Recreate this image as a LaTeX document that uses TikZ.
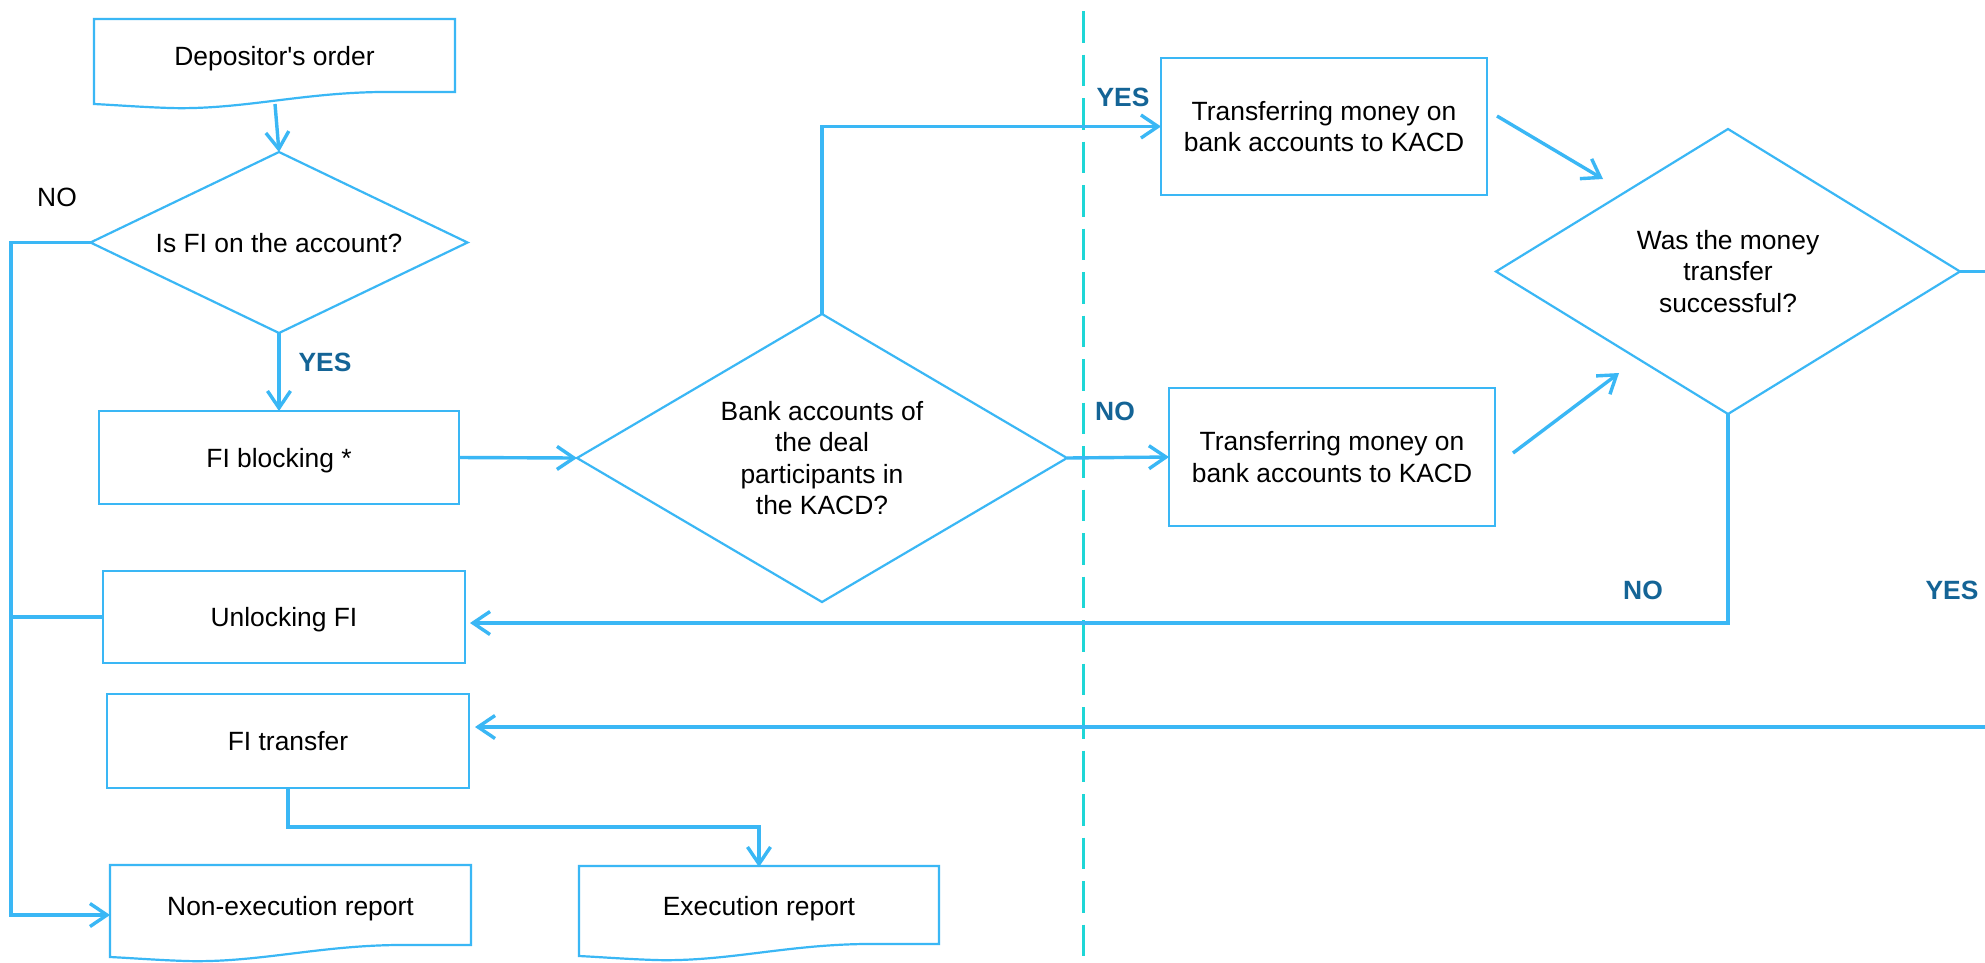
\documentclass[tikz,border=0pt]{standalone}
\usepackage{fontspec}
\setmainfont{Liberation Sans}
\usetikzlibrary{arrows.meta,calc,shapes.geometric}
\definecolor{lineblue}{RGB}{58,183,245}
\definecolor{dashcyan}{RGB}{30,214,214}
\definecolor{lblblue}{RGB}{20,100,150}
\newcommand\docoutline[4]{%
  \draw[boxline] (#1,#2) -- (#3,#2) -- (#3,#4) -- (#3-75,#4)
    .. controls (#3-155,#4+1) and (#1+146,#4+18) .. (#1+76,#4+16)
    .. controls (#1+46,#4+15) and (#1+21,#4+13) .. (#1,#4+12) -- cycle;}
\begin{document}
\begin{tikzpicture}[x=1pt,y=-1pt,
  txt/.style={font=\fontsize{26.4}{31.5}\selectfont, text=black, align=center},
  oneline/.style={text depth=0pt},
  boxline/.style={draw=lineblue, line width=2.2pt},
  box/.style={txt, boxline, rectangle, inner sep=0pt, outer sep=0pt},
  docnode/.style={txt, rectangle, inner sep=0pt, outer sep=0pt},
  dia/.style={txt, boxline, diamond, inner sep=0pt, outer sep=0pt},
  conn/.style={draw=lineblue, line width=3.4pt},
  arr/.style={-{Straight Barb[length=17pt,width=23pt]}},
  lbl/.style={font=\fontsize{26.4}{31.5}\selectfont\bfseries, text=lblblue},
  plainlbl/.style={font=\fontsize{26.4}{31.5}\selectfont, text=black},
  dashline/.style={draw=dashcyan, line width=3pt, dash pattern=on 31.5pt off 12pt}]
\useasboundingbox (0,0) rectangle (1985,962);
\fill[white] (0,0) rectangle (1985,962);
\clip (0,0) rectangle (1985,962);

% separator
\draw[dashline] (1083,11) -- (1083,962);

% nodes
\node[docnode, oneline, minimum width=361pt, minimum height=73pt] (dep) at (274.5,55.5) {Depositor\textquotesingle s order};
\docoutline{94}{19}{455}{92}
\node[dia, oneline, aspect=2, minimum width=377pt, minimum height=181pt] (d1) at (279,242.5) {Is FI on the account?};
\node[box, oneline, minimum width=360pt, minimum height=93pt] (block) at (279,457.5) {FI blocking *};
\node[dia, aspect=1.7, minimum width=490pt, minimum height=288pt] (d2) at (822,458) {Bank accounts of\\the deal\\participants in\\the KACD?};
\node[box, minimum width=326pt, minimum height=137pt] (t1) at (1324,126.5) {Transferring money on\\bank accounts to KACD};
\node[box, minimum width=326pt, minimum height=138pt] (t2) at (1332,457) {Transferring money on\\bank accounts to KACD};
\node[dia, aspect=1.63, minimum width=464pt, minimum height=285pt] (d3) at (1728,271.5) {Was the money\\transfer\\successful?};
\node[box, oneline, minimum width=362pt, minimum height=92pt] (unl) at (284,617) {Unlocking FI};
\node[box, oneline, minimum width=362pt, minimum height=94pt] (tr) at (288,741) {FI transfer};
\node[docnode, oneline, minimum width=361pt, minimum height=80pt] (nonexec) at (290.5,906) {Non-execution report};
\docoutline{110}{865}{471}{945}
\node[docnode, oneline, minimum width=360pt, minimum height=78pt] (exec) at (759,906) {Execution report};
\docoutline{579}{866}{939}{944}

% labels
\node[plainlbl] (no1) at (57,197) {NO};
\node[lbl] (yes1) at (325,362) {YES};
\node[lbl] (yes2) at (1123,97) {YES};
\node[lbl] (no2) at (1115,411) {NO};
\node[lbl] (no3) at (1643,590) {NO};
\node[lbl] (yes3) at (1952,590) {YES};

% helper coordinates
\coordinate (depbot) at (275,104);
\coordinate (busbot) at (11,915);
\coordinate (aAs) at (1497,116);
\coordinate (aAe) at (1603,179);
\coordinate (aBs) at (1513,453);
\coordinate (aBe) at (1619,373);
\coordinate (rt) at (1995,727);

% connectors
\draw[conn, arr] (depbot) -- (d1.north);
\draw[conn, arr] (d1.west) -| (busbot) -- (nonexec.west |- busbot);
\draw[conn] (unl.west) -- (unl.west -| busbot);
\draw[conn, arr] (d1.south) -- (block.north);
\draw[conn, arr] (block.east) -- (d2.west);
\draw[conn, arr] (d2.north) |- (t1.west);
\draw[conn, arr] (d2.east) -- (t2.west);
\draw[conn, arr] (aAs) -- (aAe);
\draw[conn, arr] (aBs) -- (aBe);
\draw[conn, arr] (d3.south) |- ($(unl.east)+(5,6)$);
\draw[conn, arr] (d3.east) -| (rt) -- ($(tr.east |- rt)+(6,0)$);
\draw[conn, arr] (tr.south) -- ++(0,39) -| (exec.north);
\end{tikzpicture}
\end{document}
